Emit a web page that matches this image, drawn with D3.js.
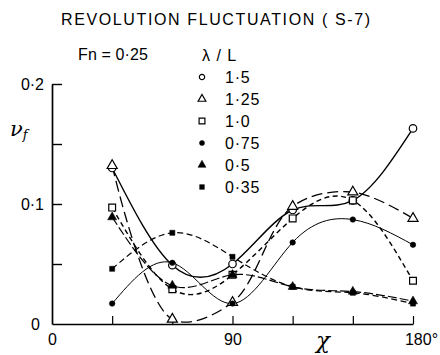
<!DOCTYPE html>
<html><head><meta charset="utf-8">
<script src="https://cdn.jsdelivr.net/npm/d3@7"></script>
<style>body{margin:0;background:#fff} svg{display:block}</style>
</head><body><svg id="c" width="440" height="355"></svg>
<script>
// ---- data ----
const angles = [30, 60, 90, 120, 150, 180];
const lambdaLabels = ["1·5", "1·25", "1·0", "0·75", "0·5", "0·35"];
const s150 = [0.130, 0.049, 0.050, 0.095, 0.103, 0.163];
const s125 = [0.132, 0.004, 0.018, 0.098, 0.110, 0.088];
const s100 = [0.097, 0.029, 0.041, 0.088, 0.103, 0.036];
const s075 = [0.017, 0.051, 0.017, 0.068, 0.087, 0.066];
const s050 = [0.089, 0.032, 0.041, 0.031, 0.027, 0.019];
const s035 = [0.046, 0.076, 0.056, 0.031, 0.026, 0.017];
const xTicks = [0, 30, 60, 90, 120, 150, 180];
const xTickLabels = ["0", "", "", "90", "", "", "180°"];
const yTicks = [0, 0.05, 0.1, 0.15, 0.2];
const yTickLabels = ["0", "", "0·1", "", "0·2"];

const seriesValues = [s150, s125, s100, s075, s050, s035];
const styles = [
  {sym: d3.symbolCircle, open: true, size: 44, lsize: 22, dash: null, w: 1.4, curve: d3.curveNatural},
  {sym: d3.symbolTriangle, open: true, size: 44, lsize: 26, dash: "11,5", w: 1.3, curve: d3.curveCatmullRom},
  {sym: d3.symbolSquare, open: true, size: 46, lsize: 34, dash: "5,3.5", w: 1.4, curve: d3.curveNatural},
  {sym: d3.symbolCircle, open: false, size: 24, lsize: 20, dash: null, w: 1.0, curve: d3.curveNatural},
  {sym: d3.symbolTriangle, open: false, size: 36, lsize: 28, dash: "9,3", w: 1.2, curve: d3.curveNatural},
  {sym: d3.symbolSquare, open: false, size: 26, lsize: 22, dash: "6,3.5", w: 1.2, curve: d3.curveNatural}
];

const svg = d3.select("#c");
const FONT = "'Liberation Sans', Arial, sans-serif";
const x = d3.scaleLinear().domain([0, 180]).range([52, 413]);
const y = d3.scaleLinear().domain([0, 0.2]).range([324, 84]);

// axes
const xAxis = d3.axisBottom(x).tickValues(xTicks)
  .tickFormat((d, i) => xTickLabels[i]).tickSizeInner(-8).tickSizeOuter(0).tickPadding(10);
const gx = svg.append("g").attr("transform", `translate(0,${y(0)})`).call(xAxis);
gx.select(".domain").attr("stroke-width", 1.7);
gx.selectAll(".tick line").attr("stroke-width", 1.2);
gx.selectAll("text").attr("font-family", FONT).attr("font-size", 16).attr("fill", "#000");
gx.selectAll(".tick").filter(d => d === 180).select("text").attr("dx", 8);
gx.selectAll(".tick").filter(d => d === 0).select("line").remove();

const yAxis = d3.axisLeft(y).tickValues(yTicks)
  .tickFormat((d, i) => yTickLabels[i]).tickSizeInner(-10).tickSizeOuter(0).tickPadding(8);
const gy = svg.append("g").attr("transform", `translate(${x(0)},0)`).call(yAxis);
gy.select(".domain").attr("stroke-width", 1.7);
gy.selectAll(".tick line").attr("stroke-width", 1.4);
gy.selectAll("text").attr("font-family", FONT).attr("font-size", 16).attr("fill", "#000");
gy.selectAll(".tick").filter(d => d === 0).select("line").remove();
gy.selectAll(".tick").filter(d => d === 0).select("text").attr("dx", -4);

// curves
seriesValues.forEach((vals, k) => {
  const st = styles[k];
  const line = d3.line().x(d => x(d[0])).y(d => y(d[1])).curve(st.curve);
  const pts = angles.map((a, i) => [a, vals[i]]);
  svg.append("path").attr("d", line(pts)).attr("fill", "none")
    .attr("stroke", "#000").attr("stroke-width", st.w)
    .attr("stroke-dasharray", st.dash);
});
// markers
seriesValues.forEach((vals, k) => {
  const st = styles[k];
  const sym = d3.symbol().type(st.sym).size(st.size);
  svg.append("g").selectAll("path").data(angles.map((a, i) => [a, vals[i]])).join("path")
    .attr("d", sym)
    .attr("transform", d => `translate(${x(d[0])},${y(d[1])})`)
    .attr("fill", st.open ? "#fff" : "#000")
    .attr("stroke", "#000").attr("stroke-width", st.open ? 1.2 : 0.5);
});

// legend
const legY = [77, 99, 121, 143, 165, 187];
lambdaLabels.forEach((lab, k) => {
  const st = styles[k];
  svg.append("path").attr("d", d3.symbol().type(st.sym).size(st.lsize)())
    .attr("transform", `translate(202,${legY[k]})`)
    .attr("fill", st.open ? "#fff" : "#000").attr("stroke", "#000")
    .attr("stroke-width", st.open ? 1.2 : 0.5);
  svg.append("text").attr("x", 225).attr("y", legY[k] + 6)
    .attr("font-family", FONT).attr("font-size", 16).attr("letter-spacing", 0.8).text(lab);
});
svg.append("text").attr("x", 202).attr("y", 61).attr("font-family", FONT)
  .attr("font-size", 16).attr("letter-spacing", 1).text("λ / L");
svg.append("text").attr("x", 78).attr("y", 60).attr("font-family", FONT)
  .attr("font-size", 16).attr("textLength", 70).attr("lengthAdjust", "spacing").text("Fn = 0·25");

// title
svg.append("text").attr("x", 61).attr("y", 25).attr("font-family", FONT)
  .attr("font-size", 16).attr("textLength", 309).attr("lengthAdjust", "spacing")
  .text("REVOLUTION  FLUCTUATION ( S-7)");

// axis titles
svg.append("text").attr("x", 316).attr("y", 348).attr("font-family", "'DejaVu Serif', serif")
  .attr("font-style", "italic").attr("font-size", 23).text("χ");
const yl = svg.append("text").attr("x", 10).attr("y", 136)
  .attr("font-family", "'DejaVu Serif', serif").attr("font-style", "italic").attr("font-size", 21);
yl.append("tspan").text("ν");
yl.append("tspan").attr("font-size", 13).attr("dy", 3).text("f");
</script></body></html>
